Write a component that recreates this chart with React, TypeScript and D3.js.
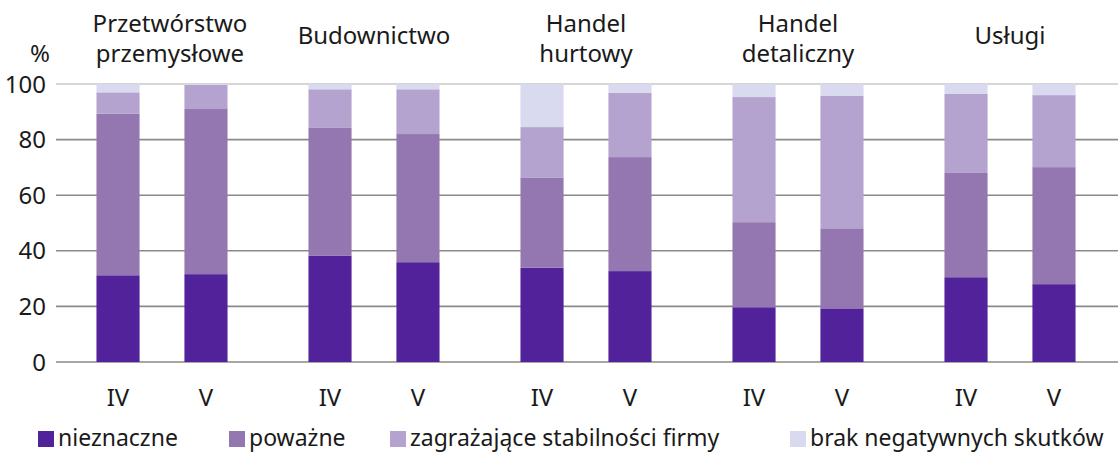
import React from 'react';
import * as d3 from 'd3';

const groups = ['Przetwórstwo przemysłowe', 'Budownictwo', 'Handel hurtowy', 'Handel detaliczny', 'Usługi'];
const groupTitles = [['Przetwórstwo', 'przemysłowe'], ['Budownictwo'], ['Handel', 'hurtowy'], ['Handel', 'detaliczny'], ['Usługi']];
const periods = ['IV', 'V'];
const seriesNames = ['nieznaczne', 'poważne', 'zagrażające stabilności firmy', 'brak negatywnych skutków'];

// values per bar: group x period, in order of seriesNames
const nieznaczne = [31.2, 31.6, 38.3, 35.9, 33.9, 32.7, 19.7, 19.3, 30.5, 28.0];
const powazne = [58.1, 59.4, 45.9, 46.1, 32.5, 41.0, 30.6, 28.8, 37.5, 42.1];
const zagrazajace = [7.7, 8.7, 13.9, 16.1, 18.1, 23.1, 45.0, 47.6, 28.4, 25.9];
const brak = [3.0, 0.3, 1.9, 1.9, 15.5, 3.2, 4.7, 4.3, 3.6, 4.0];
const yTicks = [0, 20, 40, 60, 80, 100];

const colors = ['#52229a', '#9477b1', '#b4a2cf', '#d9daef'];
const FONT = "'Noto Sans', sans-serif";

const App = () => {
  const width = 1118;
  const height = 452;

  const x0 = d3.scaleBand().domain(groups).range([56, 1116]).padding(0);
  const x1 = d3.scaleBand().domain(periods).range([0, x0.bandwidth()]).paddingInner(0.51).paddingOuter(0.46);
  const y = d3.scaleLinear().domain([0, 100]).range([362, 84]);

  const rows = groups.flatMap((g, gi) =>
    periods.map((p, pi) => {
      const i = gi * periods.length + pi;
      return { group: g, period: p, nieznaczne: nieznaczne[i], powazne: powazne[i], zagrazajace: zagrazajace[i], brak: brak[i] };
    })
  );
  const stack = d3.stack().keys(['nieznaczne', 'powazne', 'zagrazajace', 'brak']);
  const layers = stack(rows as any);

  const legendX = [38, 229, 390, 790];
  const titleDx = [8, 0, 0, 0, 0];

  return (
    <svg width={width} height={height} style={{ display: 'block', position: 'absolute', left: 0, top: 0, fontFamily: FONT }}>
      <rect width={width} height={height} fill="#fff" />
      {yTicks.map(t => (
        <g key={t}>
          <line x1={56} x2={1118} y1={y(t)} y2={y(t)} stroke={t === 100 ? '#c8c8c8' : '#8a8a8a'} strokeWidth={1.6} />
          <text x={46} y={y(t)} dy="0.36em" textAnchor="end" fontSize={24} fill="#1a1a1a" style={{ fontFamily: FONT }}>{t}</text>
        </g>
      ))}
      <text x={40} y={62} textAnchor="middle" fontSize={24} fill="#1a1a1a" style={{ fontFamily: FONT }}>%</text>

      {layers.map((layer, li) => (
        <g key={li} fill={colors[li]}>
          {layer.map((d, i) => {
            const r = rows[i];
            const bx = (x0(r.group) || 0) + (x1(r.period) || 0);
            return <rect key={i} x={bx} y={y(d[1])} width={x1.bandwidth()} height={Math.max(0, y(d[0]) - y(d[1]))} />;
          })}
        </g>
      ))}

      {rows.map((r, i) => (
        <text key={i} x={(x0(r.group) || 0) + (x1(r.period) || 0) + x1.bandwidth() / 2} y={406} textAnchor="middle" fontSize={24} fill="#1a1a1a" style={{ fontFamily: FONT }}>
          {r.period}
        </text>
      ))}

      {groups.map((g, gi) => {
        const lines = groupTitles[gi];
        const cx = (x0(g) || 0) + x0.bandwidth() / 2 + titleDx[gi];
        const ys = lines.length === 2 ? [32, 62] : [44];
        return (
          <text key={g} textAnchor="middle" fontSize={24} fill="#1a1a1a" style={{ fontFamily: FONT }}>
            {lines.map((l, li) => (
              <tspan key={li} x={cx} y={ys[li]}>{l}</tspan>
            ))}
          </text>
        );
      })}

      {seriesNames.map((s, i) => (
        <g key={s} transform={`translate(${legendX[i]},0)`}>
          <rect x={0} y={431} width={16} height={16} fill={colors[i]} />
          <text x={20} y={446} fontSize={23} fill="#1a1a1a" style={{ fontFamily: FONT }}>{s}</text>
        </g>
      ))}
    </svg>
  );
};

export default App;
